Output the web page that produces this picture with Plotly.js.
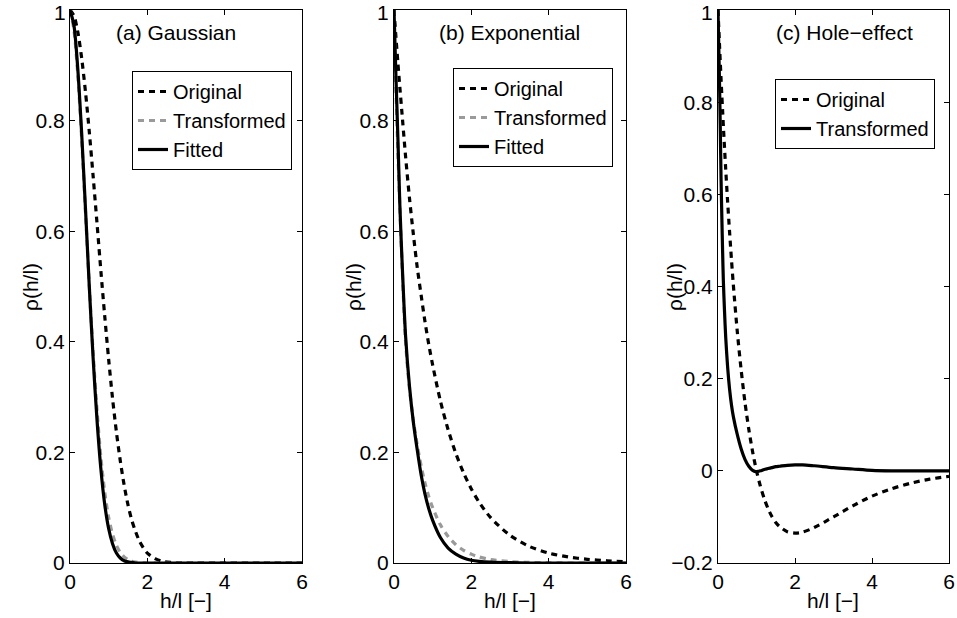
<!DOCTYPE html>
<html>
<head>
<meta charset="utf-8">
<script src="https://cdn.plot.ly/plotly-3.0.1.min.js"></script>
<style>
  html, body { margin: 0; padding: 0; background: #fff; }
  #chart { width: 957px; height: 618px; }
</style>
</head>
<body>
<div id="chart"></div>
<script>
// (a) Gaussian correlation
const gaussH = [0, 0.1, 0.2, 0.3, 0.4, 0.5, 0.6, 0.7, 0.8, 0.9, 1.0, 1.1, 1.2, 1.3, 1.4, 1.5, 1.6, 1.7, 1.8, 1.9, 2.0, 2.2, 2.4, 2.6, 2.8, 3, 4, 5, 6];
const gaussOriginal = [1, 0.990, 0.961, 0.914, 0.852, 0.779, 0.698, 0.613, 0.527, 0.445, 0.368, 0.298, 0.237, 0.185, 0.141, 0.105, 0.077, 0.056, 0.039, 0.027, 0.018, 0.008, 0.003, 0.001, 0, 0, 0, 0, 0];
const gaussTransformed = [1, 0.965, 0.885, 0.770, 0.635, 0.500, 0.378, 0.275, 0.190, 0.127, 0.082, 0.052, 0.032, 0.019, 0.011, 0.006, 0.003, 0.0015, 0.0007, 0.0003, 0, 0, 0, 0, 0, 0, 0, 0, 0];
const gaussFitted = [1, 0.973, 0.895, 0.779, 0.641, 0.499, 0.368, 0.257, 0.169, 0.105, 0.062, 0.035, 0.018, 0.009, 0.004, 0.002, 0.001, 0, 0, 0, 0, 0, 0, 0, 0, 0, 0, 0, 0];

// (b) Exponential correlation
const expoH = [0, 0.05, 0.1, 0.15, 0.2, 0.3, 0.4, 0.5, 0.6, 0.7, 0.8, 0.9, 1.0, 1.2, 1.4, 1.6, 1.8, 2.0, 2.2, 2.5, 3.0, 3.5, 4.0, 4.5, 5.0, 5.5, 6.0];
const expoOriginal = [1, 0.951, 0.905, 0.861, 0.819, 0.735, 0.660, 0.595, 0.535, 0.485, 0.437, 0.395, 0.358, 0.293, 0.241, 0.198, 0.163, 0.134, 0.110, 0.082, 0.050, 0.030, 0.018, 0.011, 0.0067, 0.0041, 0.0025];
const expoTransformed = [1, 0.860, 0.745, 0.645, 0.555, 0.400, 0.315, 0.258, 0.214, 0.176, 0.145, 0.120, 0.100, 0.069, 0.048, 0.033, 0.023, 0.016, 0.011, 0.006, 0.0025, 0.001, 0.0003, 0, 0, 0, 0];
const expoFitted = [1, 0.880, 0.770, 0.650, 0.560, 0.410, 0.320, 0.255, 0.205, 0.160, 0.125, 0.098, 0.077, 0.046, 0.027, 0.016, 0.009, 0.005, 0.003, 0.0015, 0.0005, 0, 0, 0, 0, 0, 0];

// (c) Hole-effect correlation
const holeH = [0, 0.02, 0.04, 0.06, 0.08, 0.1, 0.12, 0.14, 0.17, 0.2, 0.25, 0.3, 0.35, 0.4, 0.5, 0.6, 0.7, 0.8, 0.9, 1.0, 1.1, 1.2, 1.3, 1.4, 1.5, 1.6, 1.8, 2.0, 2.2, 2.5, 3.0, 3.5, 4.0, 4.5, 5.0, 5.5, 6.0];
const holeOriginal = [1, 0.961, 0.922, 0.885, 0.849, 0.814, 0.781, 0.747, 0.700, 0.655, 0.584, 0.519, 0.458, 0.402, 0.303, 0.220, 0.149, 0.090, 0.041, 0, -0.033, -0.060, -0.082, -0.099, -0.112, -0.121, -0.132, -0.135, -0.133, -0.123, -0.100, -0.076, -0.055, -0.039, -0.027, -0.018, -0.012];
const holeTransformed = [1, 0.920, 0.840, 0.740, 0.630, 0.550, 0.475, 0.410, 0.345, 0.290, 0.225, 0.178, 0.143, 0.117, 0.079, 0.048, 0.025, 0.010, 0.001, -0.002, 0, 0.003, 0.005, 0.007, 0.009, 0.010, 0.012, 0.013, 0.013, 0.011, 0.007, 0.004, 0.001, 0, 0, 0, 0];

const xTicks = [0, 2, 4, 6];
// the top label "1" sits against the page edge, so it is placed as an annotation below
const yTicksAB = [0, 0.2, 0.4, 0.6, 0.8, 1];
const yTickTextAB = ['0', '0.2', '0.4', '0.6', '0.8', ''];
const yTicksC = [-0.2, 0, 0.2, 0.4, 0.6, 0.8, 1];
const yTickTextC = ['\u22120.2', '0', '0.2', '0.4', '0.6', '0.8', ''];
const topTickText = '1';
const panelTitles = ['(a) Gaussian', '(b) Exponential', '(c) Hole\u2212effect'];
const xTitle = 'h/l [\u2212]';
const yTitle = '\u03c1(h/l)';

const BLACK = '#000000';
const GREY = '#9a9a9a';
const DOT = '6px,5px';
const LW = 3.2;

function line(x, y, name, color, dash, xa, ya, legendId) {
  return {
    type: 'scatter', mode: 'lines', x: x, y: y, name: name,
    xaxis: xa, yaxis: ya, legend: legendId,
    line: { color: color, width: LW, dash: dash, shape: 'spline', smoothing: 0.8 },
    hoverinfo: 'skip'
  };
}

const traces = [
  line(gaussH, gaussOriginal, 'Original', BLACK, DOT, 'x', 'y', 'legend'),
  line(gaussH, gaussTransformed, 'Transformed', GREY, DOT, 'x', 'y', 'legend'),
  line(gaussH, gaussFitted, 'Fitted', BLACK, 'solid', 'x', 'y', 'legend'),
  line(expoH, expoOriginal, 'Original', BLACK, DOT, 'x2', 'y2', 'legend2'),
  line(expoH, expoTransformed, 'Transformed', GREY, DOT, 'x2', 'y2', 'legend2'),
  line(expoH, expoFitted, 'Fitted', BLACK, 'solid', 'x2', 'y2', 'legend2'),
  line(holeH, holeOriginal, 'Original', BLACK, DOT, 'x3', 'y3', 'legend3'),
  line(holeH, holeTransformed, 'Transformed', BLACK, 'solid', 'x3', 'y3', 'legend3')
];

const W = 957, H = 618;
const yDom = [(H - 563) / H, (H - 10) / H];

function xAxis(left, right, anchor) {
  return {
    domain: [left / W, right / W], anchor: anchor, range: [0, 6],
    tickvals: xTicks, ticks: 'inside', ticklen: 5, tickcolor: BLACK,
    showline: true, linecolor: BLACK, linewidth: 1, mirror: 'ticks',
    showgrid: false, zeroline: false, automargin: false,
    ticklabeloverflow: 'allow'
  };
}
function yAxis(range, vals, text, anchor) {
  return {
    domain: yDom, anchor: anchor, range: range,
    tickvals: vals, ticktext: text, ticks: 'inside', ticklen: 5, tickcolor: BLACK,
    showline: true, linecolor: BLACK, linewidth: 1, mirror: 'ticks',
    showgrid: false, zeroline: false, automargin: false,
    ticklabeloverflow: 'allow'
  };
}
function legendAt(px, py) {
  return {
    x: px / W, y: 1 - py / H, xanchor: 'left', yanchor: 'top',
    bordercolor: BLACK, borderwidth: 1, bgcolor: '#ffffff',
    font: { size: 20 }, itemwidth: 30, tracegroupgap: 0
  };
}
function label(text, cx, cy, angle) {
  return {
    text: text, xref: 'paper', yref: 'paper', x: cx / W, y: 1 - cy / H,
    xanchor: 'center', yanchor: 'middle', showarrow: false,
    textangle: angle || 0, font: { size: 21 }
  };
}
function topTick(rightPx) {
  return {
    text: topTickText, xref: 'paper', yref: 'paper', x: rightPx / W, y: 1,
    xanchor: 'right', yanchor: 'top', showarrow: false, borderpad: 0,
    font: { size: 21 }
  };
}

const layout = {
  width: W, height: H,
  margin: { l: 0, r: 0, t: 0, b: 0 },
  paper_bgcolor: '#ffffff', plot_bgcolor: '#ffffff',
  font: { family: 'Liberation Sans, Arial, Helvetica, sans-serif', size: 21, color: '#000000' },
  xaxis: xAxis(70, 302, 'y'),
  yaxis: yAxis([0, 1], yTicksAB, yTickTextAB, 'x'),
  xaxis2: xAxis(394, 626, 'y2'),
  yaxis2: yAxis([0, 1], yTicksAB, yTickTextAB, 'x2'),
  xaxis3: xAxis(718, 949, 'y3'),
  yaxis3: yAxis([-0.2, 1], yTicksC, yTickTextC, 'x3'),
  legend: legendAt(132, 71),
  legend2: legendAt(453, 68),
  legend3: legendAt(775, 79),
  annotations: [
    label(panelTitles[0], 176, 32),
    label(panelTitles[1], 509, 32),
    label(panelTitles[2], 844, 32),
    label(xTitle, 186, 600),
    label(xTitle, 510, 600),
    label(xTitle, 833, 600),
    label(yTitle, 30, 287, -90),
    label(yTitle, 353, 287, -90),
    label(yTitle, 674, 287, -90),
    topTick(67),
    topTick(390),
    topTick(714)
  ],
  showlegend: true
};

Plotly.newPlot('chart', traces, layout, { displayModeBar: false, staticPlot: true });
</script>
</body>
</html>
